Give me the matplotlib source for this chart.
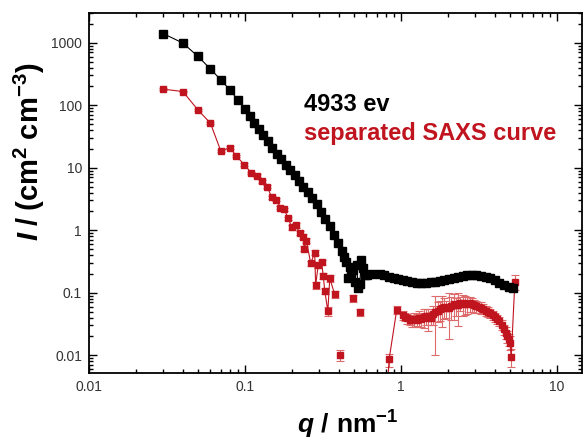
import numpy as np
import matplotlib
matplotlib.use('Agg')
from matplotlib import pyplot as plt
from matplotlib.ticker import LogLocator, FixedLocator, FixedFormatter, NullFormatter

# black curve: 4933 eV measurement
q_black = [0.030, 0.040, 0.050, 0.060, 0.070, 0.080, 0.090, 0.100, 0.107, 0.115,
           0.123, 0.131, 0.140, 0.150, 0.160, 0.171, 0.183, 0.195, 0.208, 0.222,
           0.237, 0.253, 0.270, 0.288, 0.307, 0.327, 0.349, 0.372, 0.396, 0.417,
           0.432, 0.446, 0.460, 0.470, 0.482, 0.494, 0.507, 0.520, 0.532, 0.545,
           0.558, 0.570, 0.585, 0.610, 0.650, 0.730, 0.780, 0.840, 0.900, 0.960,
           1.03, 1.10, 1.18, 1.26, 1.35, 1.45, 1.55, 1.66, 1.78, 1.90,
           2.03, 2.18, 2.33, 2.49, 2.67, 2.85, 3.05, 3.27, 3.50, 3.74,
           4.00, 4.28, 4.58, 4.90, 5.20]
I_black = [1400, 990, 605, 383, 255, 177, 122, 87, 68, 52,
           41, 33, 26.5, 21, 16.8, 13.8, 11.2, 9.1, 7.6, 6.2,
           5.0, 4.1, 3.3, 2.6, 1.95, 1.5, 1.15, 0.85, 0.62, 0.47,
           0.38, 0.31, 0.17, 0.26, 0.21, 0.23, 0.15, 0.28, 0.12, 0.14,
           0.33, 0.25, 0.19, 0.19, 0.20, 0.20, 0.19, 0.18, 0.17, 0.165,
           0.158, 0.152, 0.147, 0.144, 0.142, 0.143, 0.146, 0.150, 0.156, 0.162,
           0.168, 0.174, 0.180, 0.185, 0.189, 0.191, 0.190, 0.187, 0.180, 0.170,
           0.158, 0.145, 0.132, 0.122, 0.118]

# red curve: separated SAXS (nan = negative values, not drawn)
q_red = [0.030, 0.040, 0.050, 0.060, 0.070, 0.080, 0.088, 0.099, 0.110, 0.120,
         0.129, 0.139, 0.148, 0.159, 0.169, 0.178, 0.190, 0.199, 0.211, 0.225,
         0.236, 0.240, 0.248, 0.264, 0.280, 0.284, 0.295, 0.310, 0.318, 0.325,
         0.340, 0.350, 0.376, 0.390, 0.406, 0.450, 0.490, 0.520, 0.550, 0.700,
         0.800, 0.840, 0.940, 1.03, 1.07, 1.10, 1.14, 1.18, 1.22, 1.26,
         1.30, 1.35, 1.40, 1.45, 1.50, 1.55, 1.60, 1.66, 1.72, 1.78,
         1.84, 1.90, 1.96, 2.03, 2.10, 2.18, 2.25, 2.33, 2.41, 2.49,
         2.58, 2.67, 2.76, 2.85, 2.95, 3.05, 3.16, 3.27, 3.38, 3.50,
         3.62, 3.74, 3.87, 4.00, 4.14, 4.28, 4.43, 4.58, 4.70, 4.80,
         4.90, 5.00, 5.10, 5.38]
I_red = [181, 166, 84, 52, 18.6, 21, 15.5, 11.2, 8.3, 7.5,
         6.1, 5.0, 3.4, 3.1, 2.3, 2.16, 1.55, 1.11, 1.2, 0.91,
         0.79, 0.51, 0.68, 0.295, 0.44, 0.132, 0.277, 0.31, 0.185, 0.107,
         0.051, 0.17, 0.095, np.nan, 0.0102, np.nan, 0.081, np.nan, 0.049, np.nan,
         0.001, 0.0086, 0.053, 0.044, 0.041, 0.039, 0.037, 0.036, 0.038, 0.037,
         0.040, 0.038, 0.041, 0.042, 0.039, 0.040, 0.046, 0.050, 0.052, 0.055,
         0.058, 0.060, 0.057, 0.058, 0.062, 0.066, 0.063, 0.064, 0.069, 0.068,
         0.066, 0.065, 0.068, 0.066, 0.063, 0.061, 0.060, 0.058, 0.055, 0.052,
         0.050, 0.047, 0.044, 0.041, 0.038, 0.035, 0.031, 0.026, 0.023, 0.020,
         0.018, 0.016, 0.0094, 0.15]
err_red = [5, 5, 3, 2, 1, 1, 0.8, 0.6, 0.4, 0.4,
           0.3, 0.3, 0.2, 0.2, 0.15, 0.15, 0.1, 0.1, 0.1, 0.08,
           0.07, 0.05, 0.06, 0.03, 0.04, 0.015, 0.03, 0.03, 0.02, 0.012,
           0.008, 0.02, 0.012, 0, 0.002, 0, 0.01, 0, 0.006, 0,
           0, 0.002, 0.008, 0.008, 0.006, 0.007, 0.006, 0.008, 0.010, 0.008,
           0.012, 0.010, 0.014, 0.012, 0.015, 0.010, 0.016, 0.040, 0.018, 0.020,
           0.030, 0.022, 0.018, 0.040, 0.025, 0.030, 0.020, 0.035, 0.018, 0.025,
           0.022, 0.020, 0.018, 0.016, 0.015, 0.014, 0.012, 0.012, 0.010, 0.010,
           0.009, 0.008, 0.008, 0.007, 0.006, 0.006, 0.006, 0.005, 0.005, 0.004,
           0.004, 0.004, 0.003, 0.04]

black_label = '4933 ev'
red_label = 'separated SAXS curve'
red = '#c0141f'

plt.rcParams['font.family'] = 'Liberation Sans'
plt.rcParams['mathtext.fontset'] = 'custom'
plt.rcParams['mathtext.rm'] = 'Liberation Sans:bold'
plt.rcParams['mathtext.it'] = 'Liberation Sans:italic:bold'
plt.rcParams['mathtext.bf'] = 'Liberation Sans:bold'

fig = plt.figure(figsize=(5.84, 4.43), dpi=100)
ax = fig.add_axes([0.1524, 0.158, 0.8442, 0.8127])

ax.errorbar(q_red, I_red, yerr=err_red, fmt='s-', color=red, ms=5, lw=0.8,
            ecolor='#de6b6b', elinewidth=0.8, capsize=3, capthick=0.8, zorder=2)
ax.plot(q_black, I_black, 's-', color='black', ms=5.5, lw=0.8, zorder=3)

ax.set_xscale('log')
ax.set_yscale('log')
ax.set_xlim(0.01, 14.5)
ax.set_ylim(0.0052, 3000)

xt = [0.01, 0.1, 1, 10]
yt = [0.01, 0.1, 1, 10, 100, 1000]
ax.xaxis.set_major_locator(FixedLocator(xt))
ax.xaxis.set_major_formatter(FixedFormatter(['0.01', '0.1', '1', '10']))
ax.yaxis.set_major_locator(FixedLocator(yt))
ax.yaxis.set_major_formatter(FixedFormatter(['0.01', '0.1', '1', '10', '100', '1000']))
for a in (ax.xaxis, ax.yaxis):
    a.set_minor_locator(LogLocator(base=10, subs=np.arange(2, 10), numticks=20))
    a.set_minor_formatter(NullFormatter())
ax.tick_params(which='both', direction='in', top=True, right=True, width=1)
ax.tick_params(which='major', length=6, labelsize=10, labelcolor='#333333', pad=5)
ax.tick_params(which='minor', length=3)
for s in ax.spines.values():
    s.set_linewidth(1.3)

ax.set_xlabel(r'$q\ /\ \mathrm{nm}^{-1}$', fontsize=19, va='center')
ax.xaxis.set_label_coords(0.524, -0.144)
ax.set_ylabel(r'$I\;/\;(\mathrm{cm}^{2}\;\mathrm{cm}^{-3})$', fontsize=21, va='center')
ax.yaxis.set_label_coords(-0.12, 0.614)

ax.text(0.436, 0.747, black_label, transform=ax.transAxes, fontsize=17,
        fontweight='bold', color='black', va='center')
ax.text(0.436, 0.664, red_label, transform=ax.transAxes, fontsize=17,
        fontweight='bold', color=red, va='center')

fig.savefig('out.png', dpi=100)
